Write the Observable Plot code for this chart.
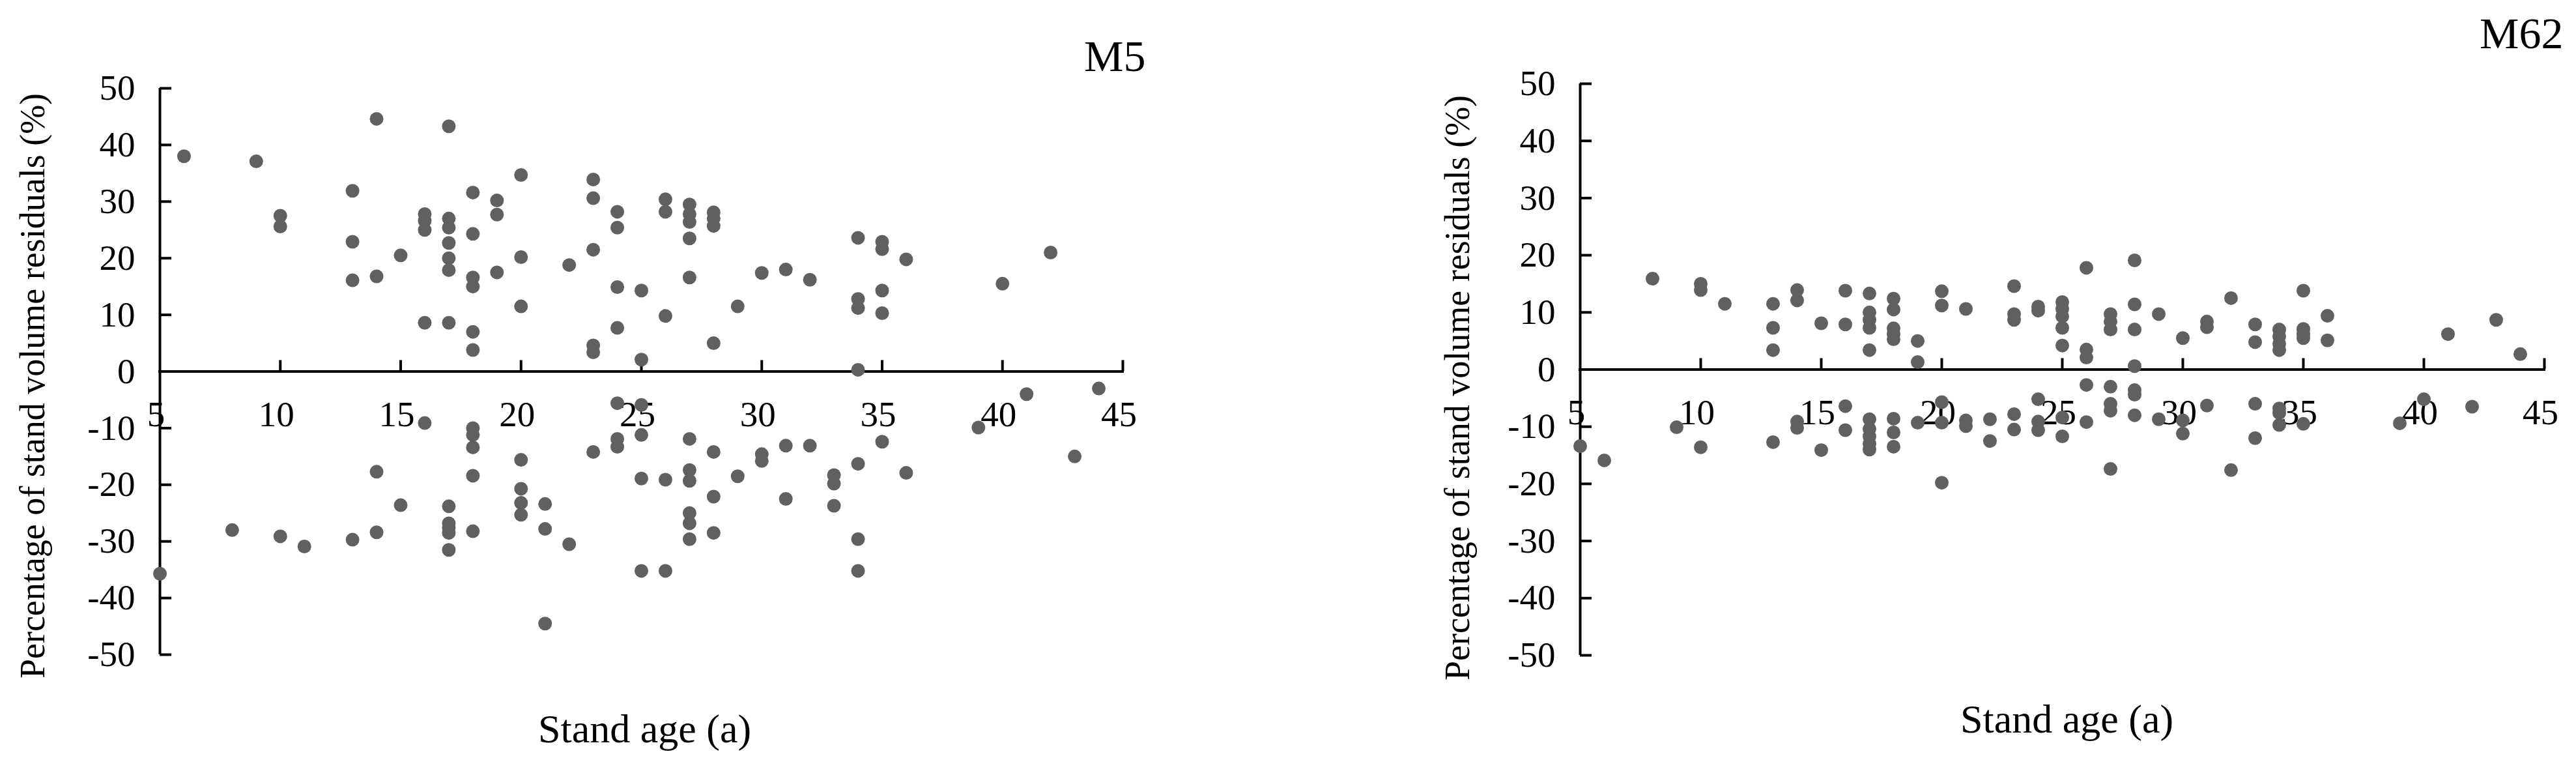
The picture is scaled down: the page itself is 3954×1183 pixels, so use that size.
<!DOCTYPE html>
<html>
<head>
<meta charset="utf-8">
<script src="https://cdn.jsdelivr.net/npm/d3@7"></script>
<script src="https://cdn.jsdelivr.net/npm/@observablehq/plot@0.6"></script>
<style>
  html, body { margin: 0; padding: 0; background: #fff; }
  #wrap { position: relative; width: 3954px; height: 1183px; overflow: hidden; background: #fff; }
  .panel { position: absolute; top: 0; }
  .panel svg { font-family: "Liberation Serif", "DejaVu Serif", serif; }
</style>
</head>
<body>
<div id="wrap"></div>
<script>
// ---- tick values ----
const xTicks = [5, 10, 15, 20, 25, 30, 35, 40, 45];
const yTicks = [-50, -40, -30, -20, -10, 0, 10, 20, 30, 40, 50];
const xDomain = [5, 45];
const yDomain = [-50, 50];

// ---- panel titles and axis titles ----
const titles = ["M5", "M62"];
const xTitle = "Stand age (a)";
const yTitle = "Percentage of stand volume residuals (%)";

// ---- M5 : stand age (a) and stand volume residuals (%) ----
const m5Age = [
  6, 9, 10, 10, 13, 13, 13, 14, 14, 15,
  16, 16, 16, 16, 17, 17, 17, 17, 17, 17, 17,
  18, 18, 18, 18, 18, 18, 19, 19, 19, 20, 20, 20,
  22, 23, 23, 23, 23, 23, 24, 24, 24, 24, 25, 25,
  26, 26, 26, 27, 27, 27, 27, 27, 28, 28, 28, 28,
  29, 30, 31, 32, 34, 34, 34, 34, 35, 35, 35, 35, 36, 40, 42,
  5, 8, 10, 11, 13, 14, 14, 15, 16,
  17, 17, 17, 17, 17, 18, 18, 18, 18, 18,
  20, 20, 20, 20, 21, 21, 21, 22, 23,
  24, 24, 24, 25, 25, 25, 25, 26, 26,
  27, 27, 27, 27, 27, 27, 28, 28, 28, 29, 30, 30,
  31, 31, 32, 33, 33, 33, 34, 34, 34, 35, 36, 39, 41, 43, 44
];
const m5Residual = [
  38.0, 37.1, 27.5, 25.6, 31.9, 22.9, 16.1, 44.6, 16.8, 20.5,
  27.8, 26.6, 25.0, 8.6, 43.3, 27.0, 25.4, 22.7, 20.0, 17.9, 8.6,
  31.6, 24.3, 16.6, 15.0, 7.0, 3.8, 30.2, 27.7, 17.5, 34.7, 20.2, 11.5,
  18.8, 33.9, 30.6, 21.5, 4.6, 3.4, 28.2, 25.4, 14.9, 7.7, 14.3, 2.1,
  30.4, 28.2, 9.8, 29.5, 27.8, 26.4, 23.5, 16.6, 28.1, 27.0, 25.7, 5.0,
  11.5, 17.4, 18.0, 16.2, 23.6, 12.8, 11.2, 0.3, 22.9, 21.6, 14.3, 10.3, 19.8, 15.5, 21.0,
  -35.7, -28.0, -29.1, -30.9, -29.7, -17.7, -28.4, -23.6, -9.1,
  -23.8, -26.8, -27.6, -28.5, -31.5, -10.0, -11.2, -13.4, -18.4, -28.2,
  -15.6, -20.7, -23.2, -25.3, -23.4, -27.8, -44.5, -30.5, -14.2,
  -5.6, -11.9, -13.3, -5.9, -11.2, -18.9, -35.2, -19.1, -35.2,
  -11.9, -17.4, -19.3, -25.0, -26.8, -29.6, -14.2, -22.1, -28.5, -18.5, -14.6, -15.8,
  -13.1, -22.5, -13.1, -18.3, -19.8, -23.7, -16.3, -29.6, -35.2, -12.4, -17.9, -9.9, -4.0, -15.0, -3.0
];

// ---- M62 : stand age (a) and stand volume residuals (%) ----
const m62Age = [
  8, 10, 10, 11, 13, 13, 13, 14, 14, 15, 16, 16,
  17, 17, 17, 17, 17, 18, 18, 18, 18, 18, 19, 19, 20, 20, 21,
  23, 23, 23, 24, 24, 25, 25, 25, 25, 25, 26, 26, 26,
  27, 27, 27, 28, 28, 28, 28, 29, 30, 31, 31, 32, 33, 33,
  34, 34, 34, 34, 35, 35, 35, 35, 36, 36, 41, 43, 44,
  5, 6, 9, 10, 13, 14, 14, 15, 16, 16,
  17, 17, 17, 17, 17, 18, 18, 18, 19, 20, 20, 20, 21, 21, 22, 22,
  23, 23, 24, 24, 24, 25, 25, 26, 26, 27, 27, 27, 27,
  28, 28, 28, 29, 30, 30, 31, 32, 33, 33, 34, 34, 34, 35, 39, 40, 42
];
const m62Residual = [
  15.9, 15.0, 13.9, 11.5, 11.5, 7.3, 3.4, 13.9, 12.1, 8.1, 13.8, 7.9,
  13.3, 10.0, 8.7, 7.3, 3.4, 12.4, 10.5, 7.2, 6.2, 5.3, 5.0, 1.3, 13.7, 11.2, 10.6,
  14.6, 9.7, 8.7, 11.0, 10.3, 11.8, 10.6, 9.3, 7.3, 4.2, 17.8, 3.5, 2.1,
  9.7, 8.4, 7.0, 19.1, 11.4, 7.0, 0.6, 9.7, 5.5, 8.4, 7.4, 12.5, 7.9, 4.8,
  7.0, 5.8, 4.5, 3.4, 13.8, 7.1, 6.2, 5.5, 9.4, 5.1, 6.2, 8.7, 2.7,
  -13.4, -15.9, -10.1, -13.6, -12.7, -9.1, -10.2, -14.1, -6.4, -10.6,
  -8.7, -10.4, -11.7, -13.0, -14.0, -8.6, -11.0, -13.5, -9.3, -5.7, -9.3, -19.8, -8.9, -9.9, -8.7, -12.5,
  -7.8, -10.5, -5.2, -9.1, -10.6, -8.4, -11.7, -2.7, -9.2, -3.0, -6.0, -7.2, -17.4,
  -3.6, -4.4, -8.0, -8.7, -8.9, -11.2, -6.3, -17.6, -6.0, -12.0, -6.8, -7.6, -9.7, -9.5, -9.4, -5.2, -6.5
];

function buildPanel(cfg) {
  const innerW = cfg.width - cfg.ml - cfg.mr;
  const innerH = cfg.height - cfg.mt - cfg.mb;
  const pts = cfg.age.map((a, i) => ({age: a, res: cfg.res[i]}));
  const axisColor = "#000";
  const sw = 4;
  const tickLen = 18;
  const chart = Plot.plot({
    width: cfg.width,
    height: cfg.height,
    marginLeft: cfg.ml,
    marginRight: cfg.mr,
    marginTop: cfg.mt,
    marginBottom: cfg.mb,
    style: {fontFamily: "'Liberation Serif', serif", background: "transparent", overflow: "visible"},
    x: {domain: xDomain, axis: null},
    y: {domain: yDomain, axis: null},
    marks: [
      // y axis line
      Plot.ruleX([xDomain[0]], {y1: yDomain[0], y2: yDomain[1], stroke: axisColor, strokeWidth: sw}),
      // x axis line at zero
      Plot.ruleY([0], {x1: xDomain[0], x2: xDomain[1], stroke: axisColor, strokeWidth: sw, strokeLinecap: "square"}),
      // y ticks pointing right
      Plot.tickY(yTicks, {y: d => d, stroke: axisColor, strokeWidth: sw, insetLeft: 0, insetRight: innerW - tickLen}),
      // x ticks pointing up from the zero line
      Plot.tickX(xTicks.slice(1), {x: d => d, stroke: axisColor, strokeWidth: sw, insetTop: innerH / 2 - tickLen + 1, insetBottom: innerH / 2}),
      // y tick labels
      Plot.text(yTicks, {x: xDomain[0], y: d => d, text: d => String(d), textAnchor: "end", dx: -38, fontSize: 55, fill: "#000"}),
      // x tick labels below zero line
      Plot.text(xTicks, {x: d => d, y: 0, text: d => String(d), dx: -6, dy: 66, fontSize: 55, fill: "#000"}),
      // points
      Plot.dot(pts, {x: "age", y: "res", r: 10.5, fill: "#606060", stroke: "none"}),
      // panel title
      Plot.text([cfg.title], {frameAnchor: "top-right", textAnchor: "end", lineAnchor: "middle", dx: cfg.titleDx, dy: cfg.titleDy, fontSize: 68, fill: "#000"}),
      // y axis title
      Plot.text([yTitle], {frameAnchor: "left", rotate: -90, textAnchor: "middle", lineAnchor: "middle", dx: cfg.yTitleDx, dy: cfg.yTitleDy, fontSize: 54, fill: "#000"}),
      // x axis title
      Plot.text([xTitle], {frameAnchor: "bottom", textAnchor: "middle", lineAnchor: "middle", dx: cfg.xTitleDx, dy: cfg.xTitleDy, fontSize: 62, fill: "#000"})
    ]
  });
  const div = document.createElement("div");
  div.className = "panel";
  div.style.left = cfg.left + "px";
  div.appendChild(chart);
  document.getElementById("wrap").appendChild(div);
}

buildPanel({
  age: m5Age, res: m5Residual, title: titles[0],
  left: 0, width: 1800, height: 1183,
  ml: 245, mr: 77, mt: 135, mb: 179,
  titleDx: 35, titleDy: -48,
  yTitleDx: -195, yTitleDy: 22,
  xTitleDx: 5, xTitleDy: 115
});

buildPanel({
  age: m62Age, res: m62Residual, title: titles[1],
  left: 2150, width: 1804, height: 1183,
  ml: 275, mr: 49, mt: 128, mb: 178,
  titleDx: 29, titleDy: -76,
  yTitleDx: -188, yTitleDy: 28,
  xTitleDx: 7, xTitleDy: 99
});
</script>
</body>
</html>
